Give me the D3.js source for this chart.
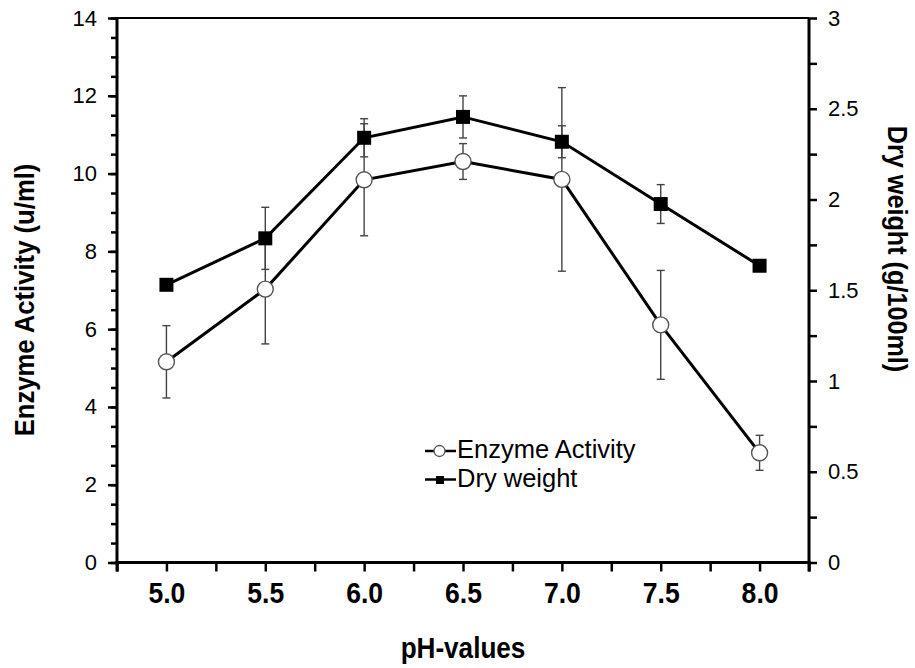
<!DOCTYPE html>
<html>
<head>
<meta charset="utf-8">
<script src="https://cdn.jsdelivr.net/npm/d3@7"></script>
<style>
  body { margin: 0; background: #fff; }
  svg { display: block; font-family: "Liberation Sans", Arial, sans-serif; }
</style>
</head>
<body>
<div id="chart"></div>
<script>
const width = 915;
const height = 668;

// pH values along the x axis
const phValues = [5.0, 5.5, 6.0, 6.5, 7.0, 7.5, 8.0];
const phLabels = ["5.0", "5.5", "6.0", "6.5", "7.0", "7.5", "8.0"];

// enzyme activity (u/ml), left axis
const enzyme = [5.16, 7.03, 9.84, 10.31, 9.85, 6.11, 2.82];
const enzymeErr = [0.93, 1.41, 1.44, 0.46, 2.36, 1.40, 0.45];

// dry weight (g/100ml), right axis
const dryWeight = [1.53, 1.786, 2.34, 2.455, 2.318, 1.975, 1.635];
const dryErr = [0, 0.171, 0.105, 0.116, 0.088, 0.107, 0];

const leftTicks = [0, 2, 4, 6, 8, 10, 12, 14];
const rightTicks = [0, 0.5, 1, 1.5, 2, 2.5, 3];
const rightLabels = ["0", "0.5", "1", "1.5", "2", "2.5", "3"];

const legendItems = [
  { label: "Enzyme Activity", symbol: "circle" },
  { label: "Dry weight", symbol: "square" },
];

const svg = d3
  .select("#chart")
  .append("svg")
  .attr("width", width)
  .attr("height", height);

svg.append("rect").attr("width", width).attr("height", height).attr("fill", "#fff");

const x = d3.scaleLinear([4.75, 8.25], [117, 809]);
const yL = d3.scaleLinear([0, 14], [562.5, 18]);
const yR = d3.scaleLinear([0, 3], [562.5, 18]);

// squeeze text a bit, the original font is slightly narrow
function condense(sel, f) {
  sel.each(function () {
    const len = this.getComputedTextLength();
    d3.select(this).attr("textLength", len * f).attr("lengthAdjust", "spacingAndGlyphs");
  });
}

function styleAxis(g, sw) {
  g.select(".domain").remove();
  g.selectAll(".tick line").attr("stroke", "#000").attr("stroke-width", sw);
}

// x axis: ticks every 0.25, labels every 0.5
const xTickVals = d3.range(4.75, 8.26, 0.25);
const xAxis = svg
  .append("g")
  .attr("transform", `translate(0,${yL(0)})`)
  .call(
    d3.axisBottom(x)
      .tickValues(xTickVals)
      .tickSize(9)
      .tickPadding(11)
      .tickFormat((d) => {
        const i = phValues.findIndex((p) => Math.abs(p - d) < 1e-6);
        return i >= 0 ? phLabels[i] : "";
      })
  );
styleAxis(xAxis, 2.5);
xAxis.selectAll("text")
  .attr("font-size", 29.5)
  .attr("font-weight", "bold")
  .attr("fill", "#000")
  .attr("font-family", "Liberation Sans, Arial, sans-serif")
  .call(condense, 0.9);

// left axis: minor every 0.5 then labelled majors
const leftMinor = svg
  .append("g")
  .attr("transform", `translate(${x(4.75)},0)`)
  .call(d3.axisLeft(yL).tickValues(d3.range(0, 14.01, 0.5)).tickSize(6).tickFormat(""));
styleAxis(leftMinor, 2.5);

const leftMajor = svg
  .append("g")
  .attr("transform", `translate(${x(4.75)},0)`)
  .call(d3.axisLeft(yL).tickValues(leftTicks).tickSize(9).tickPadding(11));
styleAxis(leftMajor, 2.5);
leftMajor.selectAll("text")
  .attr("font-size", 22)
  .attr("fill", "#000")
  .attr("font-family", "Liberation Sans, Arial, sans-serif");

// right axis: ticks every 0.25
const rightAx = svg
  .append("g")
  .attr("transform", `translate(${x(8.25)},0)`)
  .call(
    d3.axisRight(yR)
      .tickValues(d3.range(0, 3.01, 0.25))
      .tickSize(8)
      .tickPadding(11)
      .tickFormat((d) => {
        const i = rightTicks.findIndex((t) => Math.abs(t - d) < 1e-6);
        return i >= 0 ? rightLabels[i] : "";
      })
  );
styleAxis(rightAx, 2.5);
rightAx.selectAll("text")
  .attr("font-size", 22)
  .attr("fill", "#000")
  .attr("font-family", "Liberation Sans, Arial, sans-serif");

// frame lines
svg.append("line")
  .attr("x1", x(4.75)).attr("x2", x(4.75))
  .attr("y1", yL(14)).attr("y2", yL(0) + 9)
  .attr("stroke", "#000").attr("stroke-width", 3);
svg.append("line")
  .attr("x1", x(8.25)).attr("x2", x(8.25))
  .attr("y1", yL(14)).attr("y2", yL(0) + 9)
  .attr("stroke", "#000").attr("stroke-width", 3);
svg.append("line")
  .attr("x1", x(4.75) - 1.5).attr("x2", x(8.25) + 1.5)
  .attr("y1", yL(0)).attr("y2", yL(0))
  .attr("stroke", "#000").attr("stroke-width", 3);
svg.append("line")
  .attr("x1", x(4.75)).attr("x2", x(8.25))
  .attr("y1", yL(14)).attr("y2", yL(14))
  .attr("stroke", "#000").attr("stroke-width", 2);

// build rows
const rows = phValues.map((p, i) => ({
  ph: p,
  enz: enzyme[i],
  enzErr: enzymeErr[i],
  dry: dryWeight[i],
  dryErr: dryErr[i],
}));

// error bars
const capW = 4;
function errorBars(acc, errAcc, scale) {
  const g = svg.append("g").attr("stroke", "#444").attr("stroke-width", 1.4);
  rows.filter((d) => errAcc(d) > 0).forEach((d) => {
    const cx = x(d.ph);
    const top = scale(acc(d) + errAcc(d));
    const bot = scale(acc(d) - errAcc(d));
    g.append("line").attr("x1", cx).attr("x2", cx).attr("y1", top).attr("y2", bot);
    g.append("line").attr("x1", cx - capW).attr("x2", cx + capW).attr("y1", top).attr("y2", top);
    g.append("line").attr("x1", cx - capW).attr("x2", cx + capW).attr("y1", bot).attr("y2", bot);
  });
}
errorBars((d) => d.dry, (d) => d.dryErr, yR);
errorBars((d) => d.enz, (d) => d.enzErr, yL);

// lines
const lineEnz = d3.line().x((d) => x(d.ph)).y((d) => yL(d.enz));
const lineDry = d3.line().x((d) => x(d.ph)).y((d) => yR(d.dry));

svg.append("path")
  .datum(rows)
  .attr("d", lineDry)
  .attr("fill", "none")
  .attr("stroke", "#000")
  .attr("stroke-width", 3);
svg.append("path")
  .datum(rows)
  .attr("d", lineEnz)
  .attr("fill", "none")
  .attr("stroke", "#000")
  .attr("stroke-width", 3);

// markers
const sq = 14;
svg.selectAll(".sq")
  .data(rows)
  .enter()
  .append("rect")
  .attr("class", "sq")
  .attr("x", (d) => x(d.ph) - sq / 2)
  .attr("y", (d) => yR(d.dry) - sq / 2)
  .attr("width", sq)
  .attr("height", sq)
  .attr("fill", "#000");

svg.selectAll(".ci")
  .data(rows)
  .enter()
  .append("circle")
  .attr("class", "ci")
  .attr("cx", (d) => x(d.ph))
  .attr("cy", (d) => yL(d.enz))
  .attr("r", 8)
  .attr("fill", "#fff")
  .attr("stroke", "#555")
  .attr("stroke-width", 1.4);

// legend
const legend = svg.append("g").attr("transform", "translate(425,458)");
legendItems.forEach((item, i) => {
  const g = legend.append("g").attr("transform", `translate(0,${i * 28.5})`);
  g.append("line")
    .attr("x1", 0).attr("x2", 31)
    .attr("y1", -7).attr("y2", -7)
    .attr("stroke", "#000").attr("stroke-width", 2.5);
  if (item.symbol === "circle") {
    g.append("circle")
      .attr("cx", 14.5).attr("cy", -7).attr("r", 5.5)
      .attr("fill", "#fff").attr("stroke", "#555").attr("stroke-width", 1.3);
  } else {
    g.append("rect")
      .attr("x", 11).attr("y", -10.5).attr("width", 8).attr("height", 8)
      .attr("fill", "#000");
  }
  g.append("text")
    .attr("x", 32)
    .attr("y", 0)
    .attr("font-size", 25.5)
    .attr("fill", "#000")
    .text(item.label);
});

// axis titles
svg.append("text")
  .attr("x", (x(4.75) + x(8.25)) / 2)
  .attr("y", 658)
  .attr("text-anchor", "middle")
  .attr("font-size", 29)
  .attr("font-weight", "bold")
  .text("pH-values")
  .call(condense, 0.9);

svg.append("text")
  .attr("transform", "translate(34,300) rotate(-90)")
  .attr("text-anchor", "middle")
  .attr("font-size", 28.5)
  .attr("font-weight", "bold")
  .text("Enzyme Activity (u/ml)")
  .call(condense, 0.9);

svg.append("text")
  .attr("transform", "translate(888,249) rotate(90)")
  .attr("text-anchor", "middle")
  .attr("font-size", 28)
  .attr("font-weight", "bold")
  .text("Dry weight (g/100ml)")
  .call(condense, 0.9);
</script>
</body>
</html>
